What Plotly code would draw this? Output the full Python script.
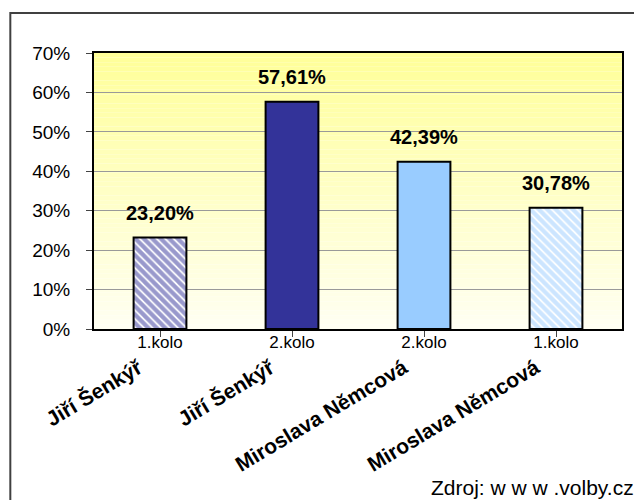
import plotly.graph_objects as go

names = ["Jiří Šenkýř", "Jiří Šenkýř", "Miroslava Němcová", "Miroslava Němcová"]
rounds = ["1.kolo", "2.kolo", "2.kolo", "1.kolo"]
values = [23.20, 57.61, 42.39, 30.78]
value_labels = ["23,20%", "57,61%", "42,39%", "30,78%"]
y_ticks = [0, 10, 20, 30, 40, 50, 60, 70]
y_tick_labels = ["0%", "10%", "20%", "30%", "40%", "50%", "60%", "70%"]
source_text = "Zdroj: w w w .volby.cz"

bar_colors = ["#333399", "#333399", "#99CCFF", "#99CCFF"]
pattern_shapes = ["\\", "", "", "\\"]

FONT = "Arial, Liberation Sans, sans-serif"

W, H = 634, 500
L, R, T, B = 94, 10, 53, 171
PW = W - L - R
PH = H - T - B


def px_x(sx):
    return (sx - L) / PW


def px_y(sy):
    return 1 - (sy - T) / PH


xs = list(range(len(values)))

fig = go.Figure()
for i, (v, c, p) in enumerate(zip(values, bar_colors, pattern_shapes)):
    marker = dict(color="white" if p else c, line=dict(color="black", width=2))
    if p:
        marker["pattern"] = dict(shape=p, fgcolor=c, bgcolor="white",
                                 size=6, solidity=0.7, fillmode="overlay")
    fig.add_trace(go.Bar(x=[xs[i]], y=[v], width=0.4, marker=marker, hoverinfo="skip"))

# background gradient (yellow top -> cream bottom)
shapes = []
n = 60
top = (255, 255, 153)
bot = (255, 255, 242)
for i in range(n):
    t = i / (n - 1)
    col = tuple(round(bot[k] + (top[k] - bot[k]) * t) for k in range(3))
    shapes.append(dict(type="rect", xref="x domain", yref="y domain",
                       x0=0, x1=1, y0=i / n, y1=(i + 1) / n,
                       fillcolor="rgb(%d,%d,%d)" % col, line=dict(width=0),
                       layer="below"))
# outer frame
shapes.append(dict(type="rect", xref="paper", yref="paper",
                   x0=px_x(10), x1=px_x(660), y0=px_y(530), y1=px_y(13),
                   line=dict(color="#404040", width=2), fillcolor="rgba(0,0,0,0)"))

annotations = []
for i, (v, lab) in enumerate(zip(values, value_labels)):
    annotations.append(dict(x=i, y=v, xref="x", yref="y", text="<b>%s</b>" % lab,
                            showarrow=False, yanchor="middle", yshift=25,
                            font=dict(family=FONT, size=20, color="black")))
for i, nm in enumerate(names):
    annotations.append(dict(x=i - 0.08, y=px_y(352), xref="x", yref="paper",
                            text="<b>%s</b>" % nm, textangle=-31,
                            showarrow=False, xanchor="right", yanchor="top",
                            font=dict(family=FONT, size=21, color="black")))
annotations.append(dict(x=px_x(638), y=px_y(487), xref="paper", yref="paper",
                        text=source_text, showarrow=False, xanchor="right", yanchor="middle",
                        font=dict(family=FONT, size=21, color="black")))

fig.update_layout(
    width=W, height=H,
    margin=dict(l=L, r=R, t=T, b=B),
    paper_bgcolor="white", plot_bgcolor="rgba(0,0,0,0)",
    showlegend=False, barmode="overlay",
    shapes=shapes, annotations=annotations,
    font=dict(family=FONT, color="black"),
)
fig.update_xaxes(
    range=[-0.5, 3.5], tickmode="array", tickvals=xs, ticktext=rounds,
    tickson="boundaries", ticks="outside", ticklen=6, tickcolor="#444",
    showline=True, linecolor="black", linewidth=2, mirror=True,
    showgrid=False, tickfont=dict(family=FONT, size=17, color="black"),
    zeroline=False, fixedrange=True, ticklabelstandoff=-9,
)
fig.update_yaxes(
    range=[0, 70], tickmode="array", tickvals=y_ticks, ticktext=y_tick_labels,
    ticks="outside", ticklen=6, tickcolor="#444",
    showline=True, linecolor="black", linewidth=2, mirror=True,
    showgrid=True, gridcolor="#999999", gridwidth=1,
    tickfont=dict(family=FONT, size=19, color="black"),
    zeroline=False, fixedrange=True, ticklabelstandoff=12,
)

fig.write_html(
    "out.html",
    config={"displayModeBar": False},
    post_script="document.body.style.margin='0';document.body.style.overflow='hidden';",
)
